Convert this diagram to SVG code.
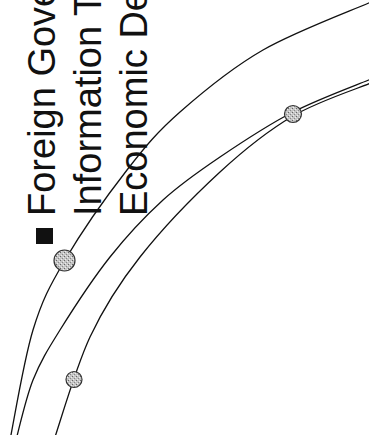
<svg xmlns="http://www.w3.org/2000/svg" width="369" height="435" viewBox="0 0 369 435">
  <style>
    .lbl { font-family: "Liberation Sans", Arial, sans-serif; font-size: 38px; fill: #111; }
    .curve { fill: none; stroke: #111; stroke-width: 1.3; stroke-linecap: round; }
    .node { fill: url(#speckle); stroke: #333; stroke-width: 1.2; }
  </style>
  <defs>
    <pattern id="speckle" width="4" height="4" patternUnits="userSpaceOnUse">
      <rect width="4" height="4" fill="#c4c4c4"/>
      <rect x="0" y="0" width="1" height="1" fill="#666"/>
      <rect x="2" y="2" width="1" height="1" fill="#888"/>
      <rect x="3" y="1" width="1" height="1" fill="#eee"/>
      <rect x="1" y="3" width="1" height="1" fill="#eee"/>
    </pattern>
  </defs>
  <rect width="369" height="435" fill="#fff"/>

  <g id="connectors">
    <path id="curve-a" class="curve" d="M371,2 C353,10 294.8,31.7 263,50 C231.2,68.3 202.7,92 180,112 C157.3,132 146.2,145.3 127,170 C107.8,194.7 80.7,233.3 65,260 C49.3,286.7 42.2,300 33,330 C23.8,360 13.8,421.7 10,440"/>
    <path id="curve-b" class="curve" d="M371,79 C358,84.5 318.2,99 293,112 C267.8,125 241.7,142.3 220,157 C198.3,171.7 181.3,183.3 163,200 C144.7,216.7 127.2,235.3 110,257 C92.8,278.7 72.8,309.5 60,330 C47.2,350.5 40.3,361.7 33,380 C25.7,398.3 18.8,430 16,440"/>
    <path id="curve-c" class="curve" d="M371,83 C358,88.5 318.2,101.2 293,116 C267.8,130.8 245.5,148.5 220,172 C194.5,195.5 161.7,229.5 140,257 C118.3,284.5 104.3,306.5 90,337 C75.7,367.5 60,422.8 54,440"/>
  </g>

  <g id="labels">
    <rect id="bullet" x="36" y="228" width="17" height="16" fill="#111"/>
    <text class="lbl" transform="translate(55,216) rotate(-90)">Foreign Gove</text>
    <text class="lbl" transform="translate(101,216) rotate(-90)">Information T</text>
    <text class="lbl" transform="translate(147,216) rotate(-90)">Economic De</text>
  </g>

  <g id="node-1"><circle class="node" cx="64.5" cy="260.5" r="10.5"/></g>
  <g id="node-2"><circle class="node" cx="74" cy="379.5" r="8"/></g>
  <g id="node-3"><circle class="node" cx="293" cy="114" r="8.5"/></g>
</svg>
